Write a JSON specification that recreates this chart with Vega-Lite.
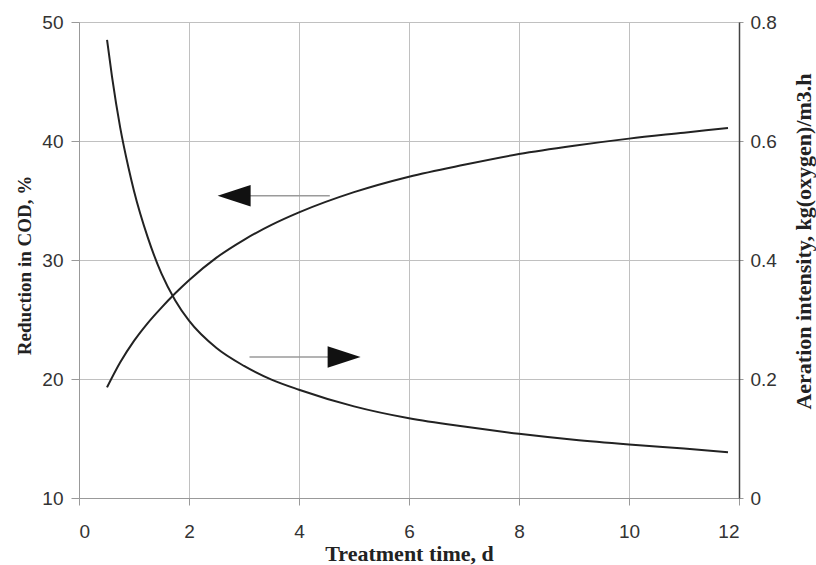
{
  "$schema": "https://vega.github.io/schema/vega-lite/v6.json",
  "width": 660,
  "height": 476,
  "autosize": "none",
  "padding": {"left": 79, "top": 22, "right": 77, "bottom": 67},
  "background": "white",
  "config": {
    "view": {"stroke": null},
    "axis": {
      "labelFont": "Liberation Sans",
      "labelFontSize": 19,
      "labelColor": "#333",
      "titleFont": "Liberation Serif",
      "titleFontSize": 20,
      "titleFontWeight": "bold",
      "titleColor": "#222",
      "gridColor": "#c0c0c0",
      "gridWidth": 1,
      "domainColor": "#999",
      "tickColor": "#999"
    }
  },
  "datasets": {
    "cod": [
      {"t": 0.51, "v": 19.3},
      {"t": 0.75, "v": 21.4},
      {"t": 1.0, "v": 23.2},
      {"t": 1.25, "v": 24.7},
      {"t": 1.5, "v": 26.0},
      {"t": 1.75, "v": 27.2},
      {"t": 2.0, "v": 28.3},
      {"t": 2.5, "v": 30.2},
      {"t": 3.0, "v": 31.7},
      {"t": 3.5, "v": 32.95},
      {"t": 4.0, "v": 34.0},
      {"t": 5.0, "v": 35.7},
      {"t": 6.0, "v": 37.0},
      {"t": 7.0, "v": 38.0},
      {"t": 8.0, "v": 38.9},
      {"t": 9.0, "v": 39.6},
      {"t": 10.0, "v": 40.2},
      {"t": 11.0, "v": 40.7},
      {"t": 11.8, "v": 41.1}
    ],
    "aer": [
      {"t": 0.51, "v": 0.77},
      {"t": 0.6, "v": 0.708},
      {"t": 0.75, "v": 0.622},
      {"t": 0.9, "v": 0.555},
      {"t": 1.0, "v": 0.516},
      {"t": 1.25, "v": 0.438},
      {"t": 1.5, "v": 0.377},
      {"t": 1.75, "v": 0.332},
      {"t": 2.0, "v": 0.298},
      {"t": 2.5, "v": 0.252},
      {"t": 3.0, "v": 0.222},
      {"t": 3.5, "v": 0.199},
      {"t": 4.0, "v": 0.182},
      {"t": 5.0, "v": 0.154},
      {"t": 6.0, "v": 0.134},
      {"t": 7.0, "v": 0.12},
      {"t": 8.0, "v": 0.108},
      {"t": 9.0, "v": 0.098},
      {"t": 10.0, "v": 0.09},
      {"t": 11.0, "v": 0.083},
      {"t": 11.8, "v": 0.077}
    ],
    "arrows": [
      {"x1": 3.1, "x2": 4.56, "y": 35.4},
      {"x1": 3.1, "x2": 4.56, "y": 21.85}
    ],
    "headLeft": [{"x": 2.82, "y": 35.4}],
    "headRight": [{"x": 4.82, "y": 21.85}]
  },
  "layer": [
    {
      "layer": [
        {
          "data": {"name": "cod"},
          "mark": {"type": "line", "color": "#222", "strokeWidth": 2, "interpolate": "monotone"},
          "encoding": {
            "x": {
              "field": "t", "type": "quantitative",
              "scale": {"domain": [0, 12]},
              "axis": {
                "title": "Treatment time, d",
                "titleFontSize": 22,
                "values": [0, 2, 4, 6, 8, 10, 12],
                "format": "d",
                "grid": true,
                "tickSize": 7,
                "labelPadding": 17,
                "titleX": 330,
                "titleY": 55,
                "titleBaseline": "middle"
              }
            },
            "y": {
              "field": "v", "type": "quantitative",
              "scale": {"domain": [10, 50]},
              "axis": {
                "title": "Reduction in COD, %",
                "titleFontSize": 19,
                "values": [10, 20, 30, 40, 50],
                "format": "d",
                "grid": true,
                "tickSize": 8,
                "labelPadding": 8,
                "titleAngle": 270,
                "titleX": -55,
                "titleY": 243,
                "titleAlign": "center",
                "titleBaseline": "middle"
              }
            }
          }
        },
        {
          "data": {"name": "arrows"},
          "mark": {"type": "rule", "color": "#9a9a9a", "strokeWidth": 1.5},
          "encoding": {
            "x": {"field": "x1", "type": "quantitative"},
            "x2": {"field": "x2"},
            "y": {"field": "y", "type": "quantitative"}
          }
        },
        {
          "data": {"name": "headLeft"},
          "mark": {"type": "point", "filled": true, "color": "#111", "opacity": 1, "size": 1089, "shape": "M -1 0 L 1 -0.65 L 1 0.65 Z"},
          "encoding": {
            "x": {"field": "x", "type": "quantitative"},
            "y": {"field": "y", "type": "quantitative"}
          }
        },
        {
          "data": {"name": "headRight"},
          "mark": {"type": "point", "filled": true, "color": "#111", "opacity": 1, "size": 1089, "shape": "M 1 0 L -1 -0.65 L -1 0.65 Z"},
          "encoding": {
            "x": {"field": "x", "type": "quantitative"},
            "y": {"field": "y", "type": "quantitative"}
          }
        }
      ]
    },
    {
      "data": {"name": "aer"},
      "mark": {"type": "line", "color": "#222", "strokeWidth": 2, "interpolate": "monotone"},
      "encoding": {
        "x": {"field": "t", "type": "quantitative"},
        "y": {
          "field": "v", "type": "quantitative",
          "scale": {"domain": [0, 0.8]},
          "axis": {
            "orient": "right",
            "title": "Aeration intensity, kg(oxygen)/m3.h",
            "titleFontSize": 22,
            "values": [0, 0.2, 0.4, 0.6, 0.8],
            "format": ".1~f",
            "grid": false,
            "domainColor": "#444",
            "domainWidth": 1.5,
            "tickSize": 4,
            "labelPadding": 7,
            "titleAngle": 270,
            "titleX": 64,
            "titleY": 219,
            "titleAlign": "center",
            "titleBaseline": "middle"
          }
        }
      }
    }
  ],
  "resolve": {"scale": {"y": "independent"}}
}
